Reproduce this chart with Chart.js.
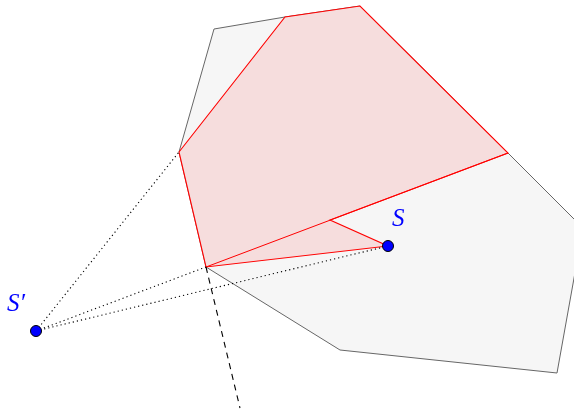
<!DOCTYPE html>
<html>
<head>
<meta charset="utf-8">
<script src="https://cdn.jsdelivr.net/npm/chart.js@4/dist/chart.umd.min.js"></script>
<style>
html,body{margin:0;padding:0;background:#fff;}
#wrap{width:574px;height:410px;}
</style>
</head>
<body>
<div id="wrap"><canvas id="c" width="574" height="410"></canvas></div>
<script>
// Points (x right, y down)
const grayPolygon = [
  {x:214,y:29},{x:285,y:17},{x:360,y:6},{x:508,y:153},{x:583,y:228},{x:557,y:373},
  {x:340,y:350},{x:206,y:267},{x:179,y:152},{x:214,y:29}
];
const pinkPolygon = [
  {x:179,y:152},{x:285,y:17},{x:360,y:6},{x:508,y:153},
  {x:330,y:220},{x:388,y:246},{x:206,y:267},{x:179,y:152}
];
const redLine = [{x:206,y:267},{x:508,y:153}];
const sPoint = {x:388,y:246};
const sPrimePoint = {x:36,y:331};
const dottedTargets = [{x:179,y:152},{x:206,y:267},{x:388,y:246}];
const dashedLine = [{x:206,y:267},{x:240,y:408}];
const pointLabels = ['S', 'S\u2032'];

const datasets = [
  {data: grayPolygon, showLine:true, fill:'shape', backgroundColor:'#f6f6f6',
   borderColor:'#666666', borderWidth:1, pointRadius:0, order:10, tension:0},
  {data: pinkPolygon, showLine:true, fill:'shape', backgroundColor:'#f6dddd',
   borderColor:'#ff0000', borderWidth:1.1, pointRadius:0, order:9, tension:0},
  {data: redLine, showLine:true, fill:false, borderColor:'#ff0000', borderWidth:1,
   pointRadius:0, order:8},
  {data: dashedLine, showLine:true, fill:false, borderColor:'#000', borderWidth:1.1,
   borderDash:[6,5], pointRadius:0, order:7}
];
dottedTargets.forEach(t => datasets.push({
  data:[sPrimePoint, t], showLine:true, fill:false, borderColor:'#000', borderWidth:1.1,
  borderDash:[1.2,3], pointRadius:0, order:6
}));
datasets.push({data:[sPoint, sPrimePoint], showLine:false, pointRadius:5.5,
  pointBackgroundColor:'#0000ff', pointBorderColor:'#000', pointBorderWidth:1, order:0});

const labelPlugin = {
  id:'labels',
  afterDatasetsDraw(chart){
    const ctx = chart.ctx, xs = chart.scales.x, ys = chart.scales.y;
    ctx.save();
    ctx.fillStyle = '#0000ff';
    ctx.font = 'italic 25px "Liberation Serif", "DejaVu Serif", serif';
    ctx.textBaseline = 'alphabetic';
    const pts = [sPoint, sPrimePoint];
    const offs = [[4,-20],[-29,-20]];
    pts.forEach((p,i) => {
      ctx.fillText(pointLabels[i], xs.getPixelForValue(p.x)+offs[i][0], ys.getPixelForValue(p.y)+offs[i][1]);
    });
    ctx.restore();
  }
};

new Chart(document.getElementById('c'), {
  type:'scatter',
  data:{datasets},
  options:{
    responsive:false, animation:false,
    layout:{padding:0, autoPadding:false},
    plugins:{legend:{display:false}, tooltip:{enabled:false}},
    scales:{
      x:{type:'linear', min:0, max:574, display:false},
      y:{type:'linear', min:0, max:410, reverse:true, display:false}
    }
  },
  plugins:[labelPlugin]
});
</script>
</body>
</html>
